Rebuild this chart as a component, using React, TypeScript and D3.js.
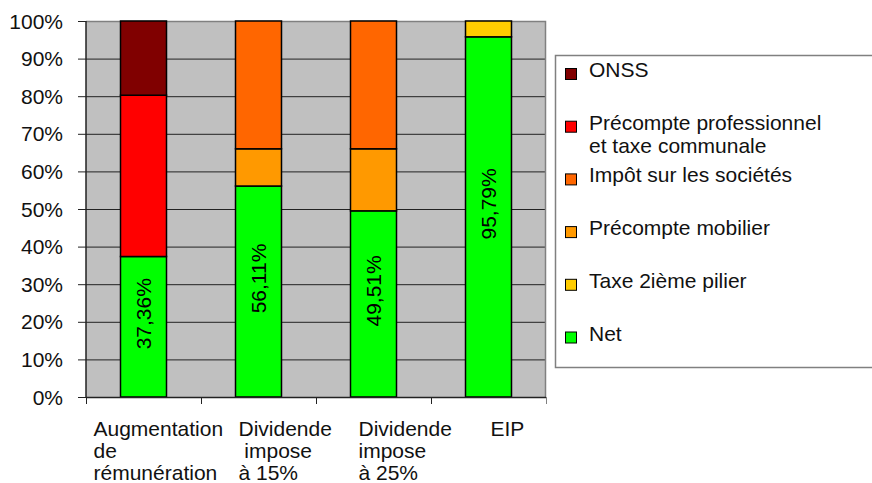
import React, { useEffect, useRef } from "react";
import * as d3 from "d3";

// categories (x axis), each label split into its wrapped lines
const categories = ["aug", "div15", "div25", "eip"];
const categoryLines = [
  ["Augmentation", "de", "rémunération"],
  ["Dividende", " impose", "à 15%"],
  ["Dividende", "impose", "à 25%"],
  ["EIP"],
];
// horizontal offset of each category label from its band centre (Excel quirk)
const labelDx = [-50, -20, -15, 2];

// series, bottom to top (% of the total)
const seriesKeys = ["net", "taxe", "pm", "isoc", "pp", "onss"];
const netValues = [37.36, 56.11, 49.51, 95.79];
const taxeValues = [0, 0, 0, 4.21];
const pmValues = [0, 9.9, 16.5, 0];
const isocValues = [0, 33.99, 33.99, 0];
const ppValues = [42.9, 0, 0, 0];
const onssValues = [19.74, 0, 0, 0];
const netLabels = ["37,36%", "56,11%", "49,51%", "95,79%"];

// legend, top to bottom
const legendKeys = ["onss", "pp", "isoc", "pm", "taxe", "net"];
const legendLines: Record<string, string[]> = {
  onss: ["ONSS"],
  pp: ["Précompte professionnel", "et taxe communale"],
  isoc: ["Impôt sur les sociétés"],
  pm: ["Précompte mobilier"],
  taxe: ["Taxe 2ième pilier"],
  net: ["Net"],
};

const yTicks = [0, 10, 20, 30, 40, 50, 60, 70, 80, 90, 100];

const colors: Record<string, string> = {
  onss: "#800000",
  pp: "#FF0000",
  isoc: "#FF6600",
  pm: "#FF9900",
  taxe: "#FFCC00",
  net: "#00FF00",
};

const FONT = "'Liberation Sans', Arial, sans-serif";
const FS = 21;

const App = () => {
  const ref = useRef<SVGSVGElement>(null);

  useEffect(() => {
    document.body.style.margin = "0";
    const W = 872;
    const H = 483;
    const left = 86;
    const right = 546;
    const top = 21;
    const bottom = 397;

    const rows = categories.map((c, i) => ({
      cat: c,
      net: netValues[i],
      taxe: taxeValues[i],
      pm: pmValues[i],
      isoc: isocValues[i],
      pp: ppValues[i],
      onss: onssValues[i],
    }));

    const svg = d3.select(ref.current).attr("width", W).attr("height", H);
    svg.selectAll("*").remove();

    const x = d3
      .scaleBand<string>()
      .domain(categories)
      .range([left, right])
      .paddingInner(0.6)
      .paddingOuter(0.3);
    const y = d3.scaleLinear().domain([0, 100]).range([bottom, top]);

    // plot background
    svg
      .append("rect")
      .attr("x", left)
      .attr("y", top)
      .attr("width", right - left)
      .attr("height", bottom - top)
      .attr("fill", "#C0C0C0");

    // gridlines
    svg
      .append("g")
      .selectAll("line")
      .data(yTicks.filter((t) => t > 0 && t < 100))
      .join("line")
      .attr("x1", left)
      .attr("x2", right)
      .attr("y1", (d) => y(d) + 0.5)
      .attr("y2", (d) => y(d) + 0.5)
      .attr("stroke", "#222")
      .attr("stroke-width", 1);

    // plot border (top, right)
    svg
      .append("path")
      .attr("d", `M${left},${y(100) + 0.5}H${right - 0.5}V${bottom}`)
      .attr("fill", "none")
      .attr("stroke", "#808080")
      .attr("stroke-width", 1.5);

    // stacked bars
    const stacked = d3.stack<any>().keys(seriesKeys)(rows);
    const g = svg.append("g");
    stacked.forEach((layer) => {
      g.append("g")
        .selectAll("rect")
        .data(layer.filter((d) => d[1] - d[0] > 0))
        .join("rect")
        .attr("x", (d) => x(d.data.cat)!)
        .attr("width", x.bandwidth())
        .attr("y", (d) => y(d[1]))
        .attr("height", (d) => y(d[0]) - y(d[1]))
        .attr("fill", colors[layer.key])
        .attr("stroke", "#000")
        .attr("stroke-width", 1.5);
    });

    // net labels, rotated
    svg
      .append("g")
      .selectAll("text")
      .data(rows)
      .join("text")
      .attr("transform", (d) => {
        const cx = x(d.cat)! + x.bandwidth() / 2;
        const cy = y(d.net / 2) - 13;
        return `translate(${cx},${cy}) rotate(-90)`;
      })
      .attr("text-anchor", "middle")
      .attr("dominant-baseline", "central")
      .attr("font-family", FONT)
      .attr("font-size", FS)
      .attr("fill", "#000")
      .text((d, i) => netLabels[i]);

    // y axis
    const ya = svg.append("g").attr("transform", `translate(${left},0)`);
    ya.append("line")
      .attr("y1", top)
      .attr("y2", bottom)
      .attr("stroke", "#222")
      .attr("stroke-width", 1.5);
    ya.selectAll("line.tick")
      .data(yTicks)
      .join("line")
      .attr("class", "tick")
      .attr("x1", -8)
      .attr("x2", 0)
      .attr("y1", (d) => y(d) + 0.5)
      .attr("y2", (d) => y(d) + 0.5)
      .attr("stroke", "#222");
    ya.selectAll("text")
      .data(yTicks)
      .join("text")
      .attr("x", -23)
      .attr("y", (d) => y(d))
      .attr("text-anchor", "end")
      .attr("dominant-baseline", "central")
      .attr("font-family", FONT)
      .attr("font-size", FS)
      .attr("fill", "#111")
      .text((d) => `${d}%`);

    // x axis
    const xa = svg.append("g");
    xa.append("line")
      .attr("x1", left)
      .attr("x2", right)
      .attr("y1", bottom + 0.5)
      .attr("y2", bottom + 0.5)
      .attr("stroke", "#222")
      .attr("stroke-width", 1.5);
    const boundaries = categories.map((c) => x(c)! - (x.step() * x.paddingInner()) / 2);
    boundaries.push(right);
    xa.selectAll("line.tick")
      .data(boundaries)
      .join("line")
      .attr("class", "tick")
      .attr("x1", (d) => Math.round(d) + 0.5)
      .attr("x2", (d) => Math.round(d) + 0.5)
      .attr("y1", bottom)
      .attr("y2", bottom + 7)
      .attr("stroke", (d, i) => (i === boundaries.length - 1 ? "#808080" : "#222"));

    const xl = xa
      .selectAll("text")
      .data(categories)
      .join("text")
      .attr("font-family", FONT)
      .attr("font-size", FS)
      .attr("fill", "#111")
      .attr("xml:space", "preserve")
      .style("white-space", "pre");
    xl.each(function (c, i) {
      const t = d3.select(this);
      const x0 = x(c)! + x.bandwidth() / 2 + labelDx[i];
      categoryLines[i].forEach((line, j) => {
        t.append("tspan")
          .attr("x", x0)
          .attr("y", 436 + j * 22)
          .text(line);
      });
    });

    // legend
    const lg = svg.append("g");
    lg.append("rect")
      .attr("x", 555.5)
      .attr("y", 55.5)
      .attr("width", 330)
      .attr("height", 312)
      .attr("fill", "#fff")
      .attr("stroke", "#808080")
      .attr("stroke-width", 1.5);
    const ly = d3
      .scalePoint<string>()
      .domain(legendKeys)
      .range([74, 337.5]);
    legendKeys.forEach((k) => {
      const cy = ly(k)!;
      lg.append("rect")
        .attr("x", 565.5)
        .attr("y", cy - 5.5)
        .attr("width", 11)
        .attr("height", 11)
        .attr("fill", colors[k])
        .attr("stroke", "#000")
        .attr("stroke-width", 1);
      const t = lg
        .append("text")
        .attr("font-family", FONT)
        .attr("font-size", FS)
        .attr("fill", "#111");
      legendLines[k].forEach((line, j) => {
        t.append("tspan")
          .attr("x", 589)
          .attr("y", cy + 3 + j * 23)
          .text(line);
      });
    });
  }, []);

  return <svg ref={ref} style={{ display: "block" }} />;
};

export default App;
